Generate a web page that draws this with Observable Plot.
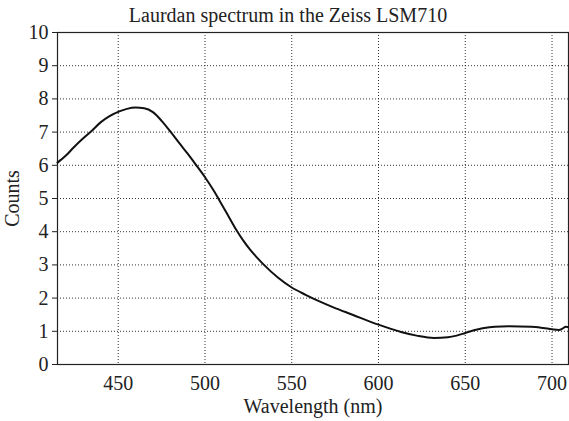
<!DOCTYPE html>
<html>
<head>
<meta charset="utf-8">
<script src="https://cdn.jsdelivr.net/npm/d3@7"></script>
<script src="https://cdn.jsdelivr.net/npm/@observablehq/plot@0.6"></script>
<style>
  html, body { margin: 0; padding: 0; background: #fff; }
</style>
</head>
<body>
<div id="chart"></div>
<script>
const title = "Laurdan spectrum in the Zeiss LSM710";
const wavelength = [415, 420, 424, 430, 434, 440, 445, 451, 455, 460, 465, 470, 475, 480, 485, 490, 495, 500, 505, 510, 515, 518, 522, 526, 530, 534, 542, 550, 558, 566, 574, 585, 600, 613, 622, 632, 640, 645, 650, 655, 660, 667, 675, 688, 695, 700, 704, 706, 708, 710];
const counts = [6.08, 6.3, 6.52, 6.82, 7.0, 7.3, 7.48, 7.63, 7.7, 7.74, 7.72, 7.6, 7.34, 7.02, 6.68, 6.35, 6.0, 5.64, 5.24, 4.79, 4.33, 4.06, 3.74, 3.46, 3.22, 3.0, 2.62, 2.32, 2.1, 1.9, 1.72, 1.5, 1.2, 0.98, 0.87, 0.8, 0.82, 0.87, 0.95, 1.03, 1.09, 1.14, 1.15, 1.14, 1.1, 1.06, 1.04, 1.08, 1.14, 1.12];
const xTicks = [450, 500, 550, 600, 650, 700];
const yTicks = [0, 1, 2, 3, 4, 5, 6, 7, 8, 9, 10];
const xLabel = "Wavelength (nm)";
const yLabel = "Counts";

const data = wavelength.map((w, i) => ({w, c: counts[i]}));
const dots = "1,2";

const chart = Plot.plot({
  width: 569,
  height: 421,
  marginTop: 32,
  marginLeft: 57,
  marginRight: 1,
  marginBottom: 57,
  style: {fontFamily: "'Liberation Serif', serif", fontSize: "20px", color: "#222", background: "#fff"},
  x: {domain: [415, 709.5]},
  y: {domain: [0, 10]},
  marks: [
    Plot.gridX(xTicks, {stroke: "#000", strokeOpacity: 0.8, strokeDasharray: dots, strokeWidth: 1}),
    Plot.gridY(yTicks.filter(v => v > 0 && v < 10), {stroke: "#000", strokeOpacity: 0.8, strokeDasharray: dots, strokeWidth: 1}),
    Plot.frame({stroke: "#222", strokeWidth: 1.2}),
    Plot.axisX(xTicks, {tickSize: 0, tickPadding: 11, fontSize: 20, label: xLabel, labelAnchor: "center", labelArrow: false, labelOffset: 48}),
    Plot.axisY(yTicks, {tickSize: 5, tickPadding: 4, fontSize: 20, label: yLabel, labelAnchor: "center", labelArrow: false, labelOffset: 53}),
    Plot.line(data, {x: "w", y: "c", stroke: "#111", strokeWidth: 2, curve: "monotone-x"}),
    Plot.text([title], {text: d => d, frameAnchor: "top", lineAnchor: "middle", dy: -17, dx: -25, fontSize: 20, fill: "#222"})
  ]
});
document.getElementById("chart").appendChild(chart);
</script>
</body>
</html>
